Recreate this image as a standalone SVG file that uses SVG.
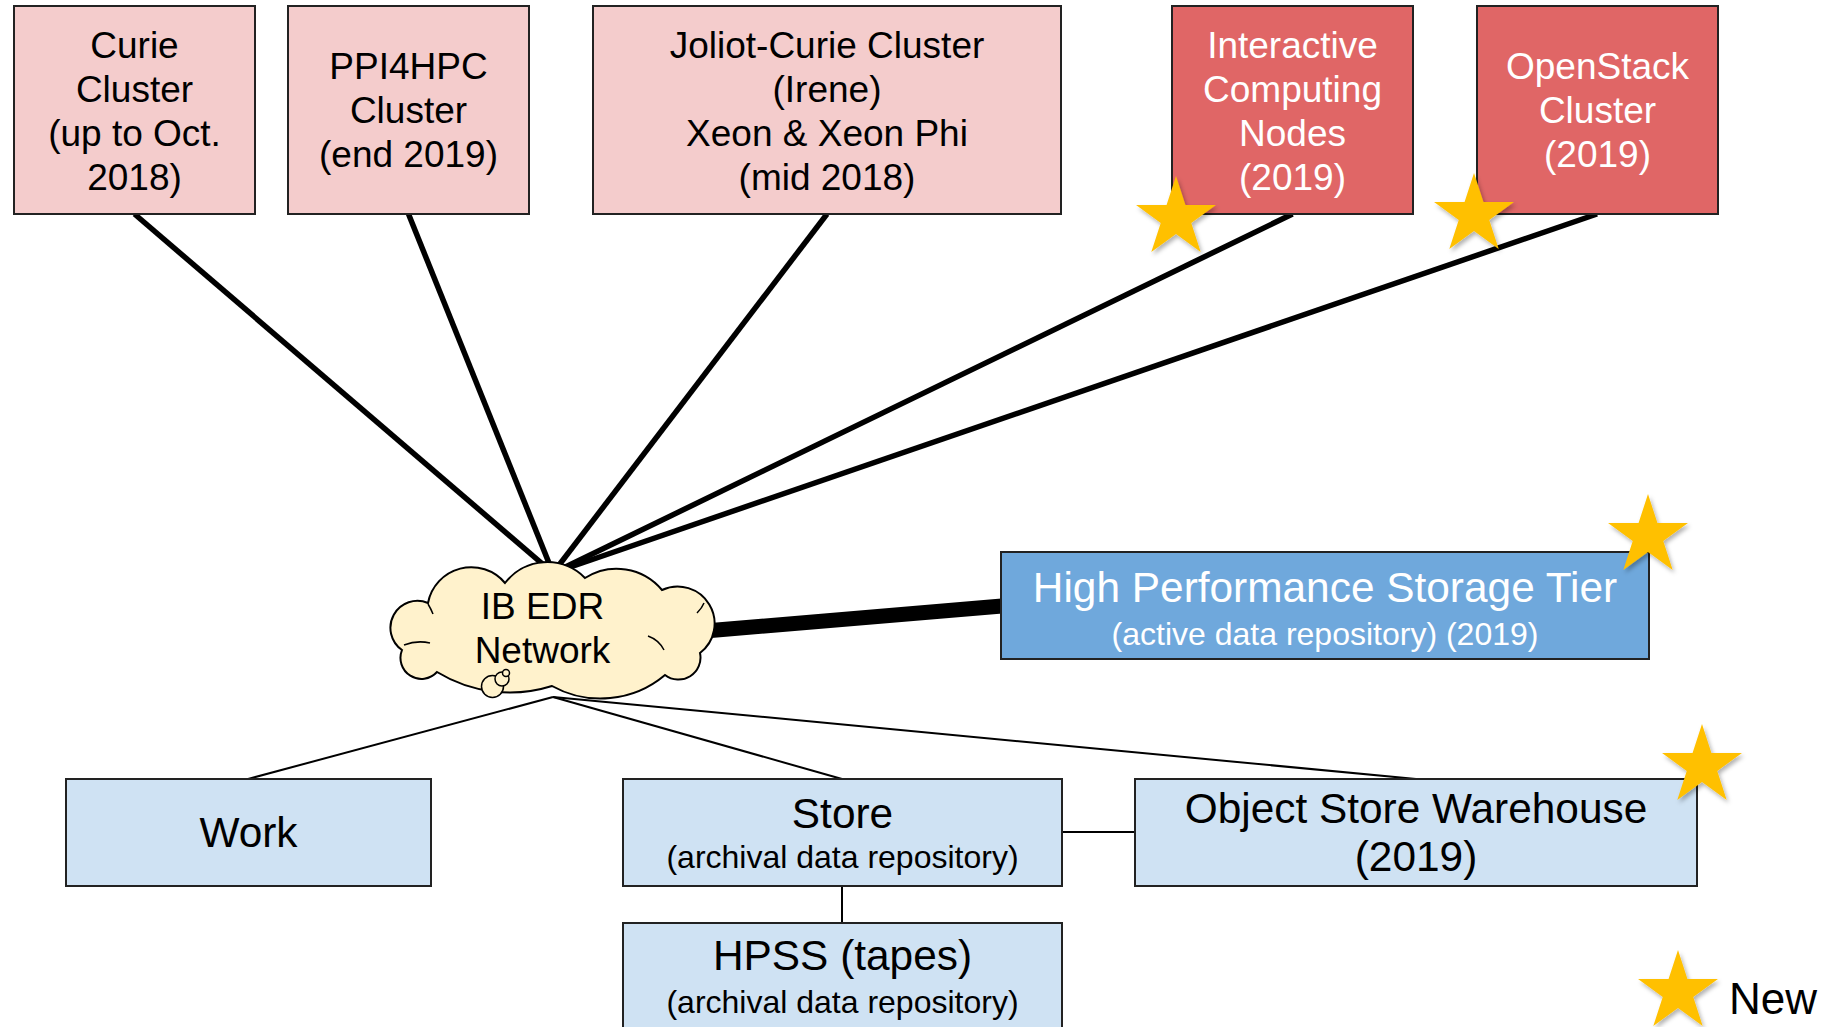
<svg xmlns="http://www.w3.org/2000/svg" xmlns:xlink="http://www.w3.org/1999/xlink" width="1826" height="1027" viewBox="0 0 1826 1027">
<style>
text{font-family:"Liberation Sans",Arial,sans-serif;text-anchor:middle;fill:#000}
.box{stroke:#222;stroke-width:2}
.pink{fill:#f4cccc}
.red{fill:#e06666}
.lb{fill:#cfe2f3}
.mb{fill:#6fa8dc}
.t36{font-size:37px}
.t42{font-size:42.4px}
.t32{font-size:32px}
.w{fill:#fff}
.thick{stroke:#000;stroke-width:5.5;fill:none}
.thin{stroke:#000;stroke-width:2;fill:none}
.star{fill:#ffc000;filter:url(#sh)}
</style>
<defs>
<filter id="sh" x="-30%" y="-30%" width="170%" height="170%">
<feDropShadow dx="2" dy="3" stdDeviation="2" flood-color="#000" flood-opacity="0.3"/>
</filter>
<path id="starp" d="M0,-42 L9.43,-12.98 L39.94,-12.98 L15.26,4.96 L24.69,33.98 L0,16.05 L-24.69,33.98 L-15.26,4.96 L-39.94,-12.98 L-9.43,-12.98 Z"/>
</defs>
<rect width="1826" height="1027" fill="#fff"/>
<g id="connectors">
<line class="thick" x1="134.5" y1="214" x2="553" y2="573"/>
<line class="thick" x1="408.5" y1="214" x2="553" y2="573"/>
<line class="thick" x1="827" y1="214" x2="553" y2="573"/>
<line class="thick" x1="1292.5" y1="214" x2="553" y2="573"/>
<line class="thick" x1="1597" y1="214" x2="553" y2="573"/>
<line stroke="#000" stroke-width="15" x1="705" y1="631" x2="1002" y2="606"/>
<line class="thin" x1="553" y1="697" x2="248" y2="779"/>
<line class="thin" x1="553" y1="697" x2="842" y2="779"/>
<line class="thin" x1="553" y1="697" x2="1416" y2="779"/>
<line class="thin" x1="1062" y1="832" x2="1135" y2="832"/>
<line class="thin" x1="842" y1="886" x2="842" y2="923"/>
</g>
<g id="curie">
<rect class="box pink" x="14" y="6" width="241" height="208"/>
<text class="t36" x="134.5" y="58">Curie</text>
<text class="t36" x="134.5" y="102">Cluster</text>
<text class="t36" x="134.5" y="146">(up to Oct.</text>
<text class="t36" x="134.5" y="190">2018)</text>
</g>
<g id="ppi4hpc">
<rect class="box pink" x="288" y="6" width="241" height="208"/>
<text class="t36" x="408.5" y="79">PPI4HPC</text>
<text class="t36" x="408.5" y="123">Cluster</text>
<text class="t36" x="408.5" y="167">(end 2019)</text>
</g>
<g id="joliot">
<rect class="box pink" x="593" y="6" width="468" height="208"/>
<text class="t36" x="827" y="58">Joliot-Curie Cluster</text>
<text class="t36" x="827" y="102">(Irene)</text>
<text class="t36" x="827" y="146">Xeon &amp; Xeon Phi</text>
<text class="t36" x="827" y="190">(mid 2018)</text>
</g>
<g id="interactive">
<rect class="box red" x="1172" y="6" width="241" height="208"/>
<text class="t36 w" x="1292.5" y="58">Interactive</text>
<text class="t36 w" x="1292.5" y="102">Computing</text>
<text class="t36 w" x="1292.5" y="146">Nodes</text>
<text class="t36 w" x="1292.5" y="190">(2019)</text>
</g>
<g id="openstack">
<rect class="box red" x="1477" y="6" width="241" height="208"/>
<text class="t36 w" x="1597.5" y="79">OpenStack</text>
<text class="t36 w" x="1597.5" y="123">Cluster</text>
<text class="t36 w" x="1597.5" y="167">(2019)</text>
</g>
<g id="ibedr">
<path d="M402,650 A27,27 0 0 1 428,603 A44,44 0 0 1 505,583 A53,53 0 0 1 585,578 A59,59 0 0 1 662,590 A37,37 0 0 1 700,653 A22,22 0 0 1 665,675 A100,100 0 0 1 552,686 A140,140 0 0 1 437,672 A21,21 0 0 1 402,650 Z" fill="#fff2cc" stroke="#000" stroke-width="2"/>
<path d="M404,645 Q417,640 430,643 M697,613 Q702,608 704,603 M648,636 Q659,640 664,650 M428,604 Q431,609 433,614" fill="none" stroke="#000" stroke-width="1.5"/>
<circle cx="492.5" cy="686.5" r="11" fill="#fff2cc" stroke="#000" stroke-width="1.5"/>
<circle cx="502" cy="679" r="7" fill="#fff2cc" stroke="#000" stroke-width="1.5"/>
<circle cx="506" cy="673" r="3.5" fill="#fff2cc" stroke="#000" stroke-width="1.5"/>
<text class="t36" x="542.5" y="619">IB EDR</text>
<text class="t36" x="542.5" y="663">Network</text>
</g>
<g id="hpst">
<rect class="box mb" x="1001" y="552" width="648" height="107"/>
<text class="t42 w" x="1325" y="602">High Performance Storage Tier</text>
<text class="t32 w" x="1325" y="645">(active data repository) (2019)</text>
</g>
<g id="work">
<rect class="box lb" x="66" y="779" width="365" height="107"/>
<text class="t42" x="248.5" y="847">Work</text>
</g>
<g id="store">
<rect class="box lb" x="623" y="779" width="439" height="107"/>
<text class="t42" x="842.5" y="828">Store</text>
<text class="t32" x="842.5" y="868">(archival data repository)</text>
</g>
<g id="objectstore">
<rect class="box lb" x="1135" y="779" width="562" height="107"/>
<text class="t42" x="1416" y="823">Object Store Warehouse</text>
<text class="t42" x="1416" y="871">(2019)</text>
</g>
<g id="hpss">
<rect class="box lb" x="623" y="923" width="439" height="130"/>
<text class="t42" x="842.5" y="970">HPSS (tapes)</text>
<text class="t32" x="842.5" y="1013">(archival data repository)</text>
</g>
<g id="stars">
<use xlink:href="#starp" class="star" x="1176" y="218"/>
<use xlink:href="#starp" class="star" x="1474" y="215"/>
<use xlink:href="#starp" class="star" x="1648" y="536"/>
<use xlink:href="#starp" class="star" x="1702" y="766"/>
</g>
<g id="legend">
<use xlink:href="#starp" class="star" x="1678" y="992"/>
<text x="1729" y="1014" style="font-size:44px;text-anchor:start">New</text>
</g>
</svg>
